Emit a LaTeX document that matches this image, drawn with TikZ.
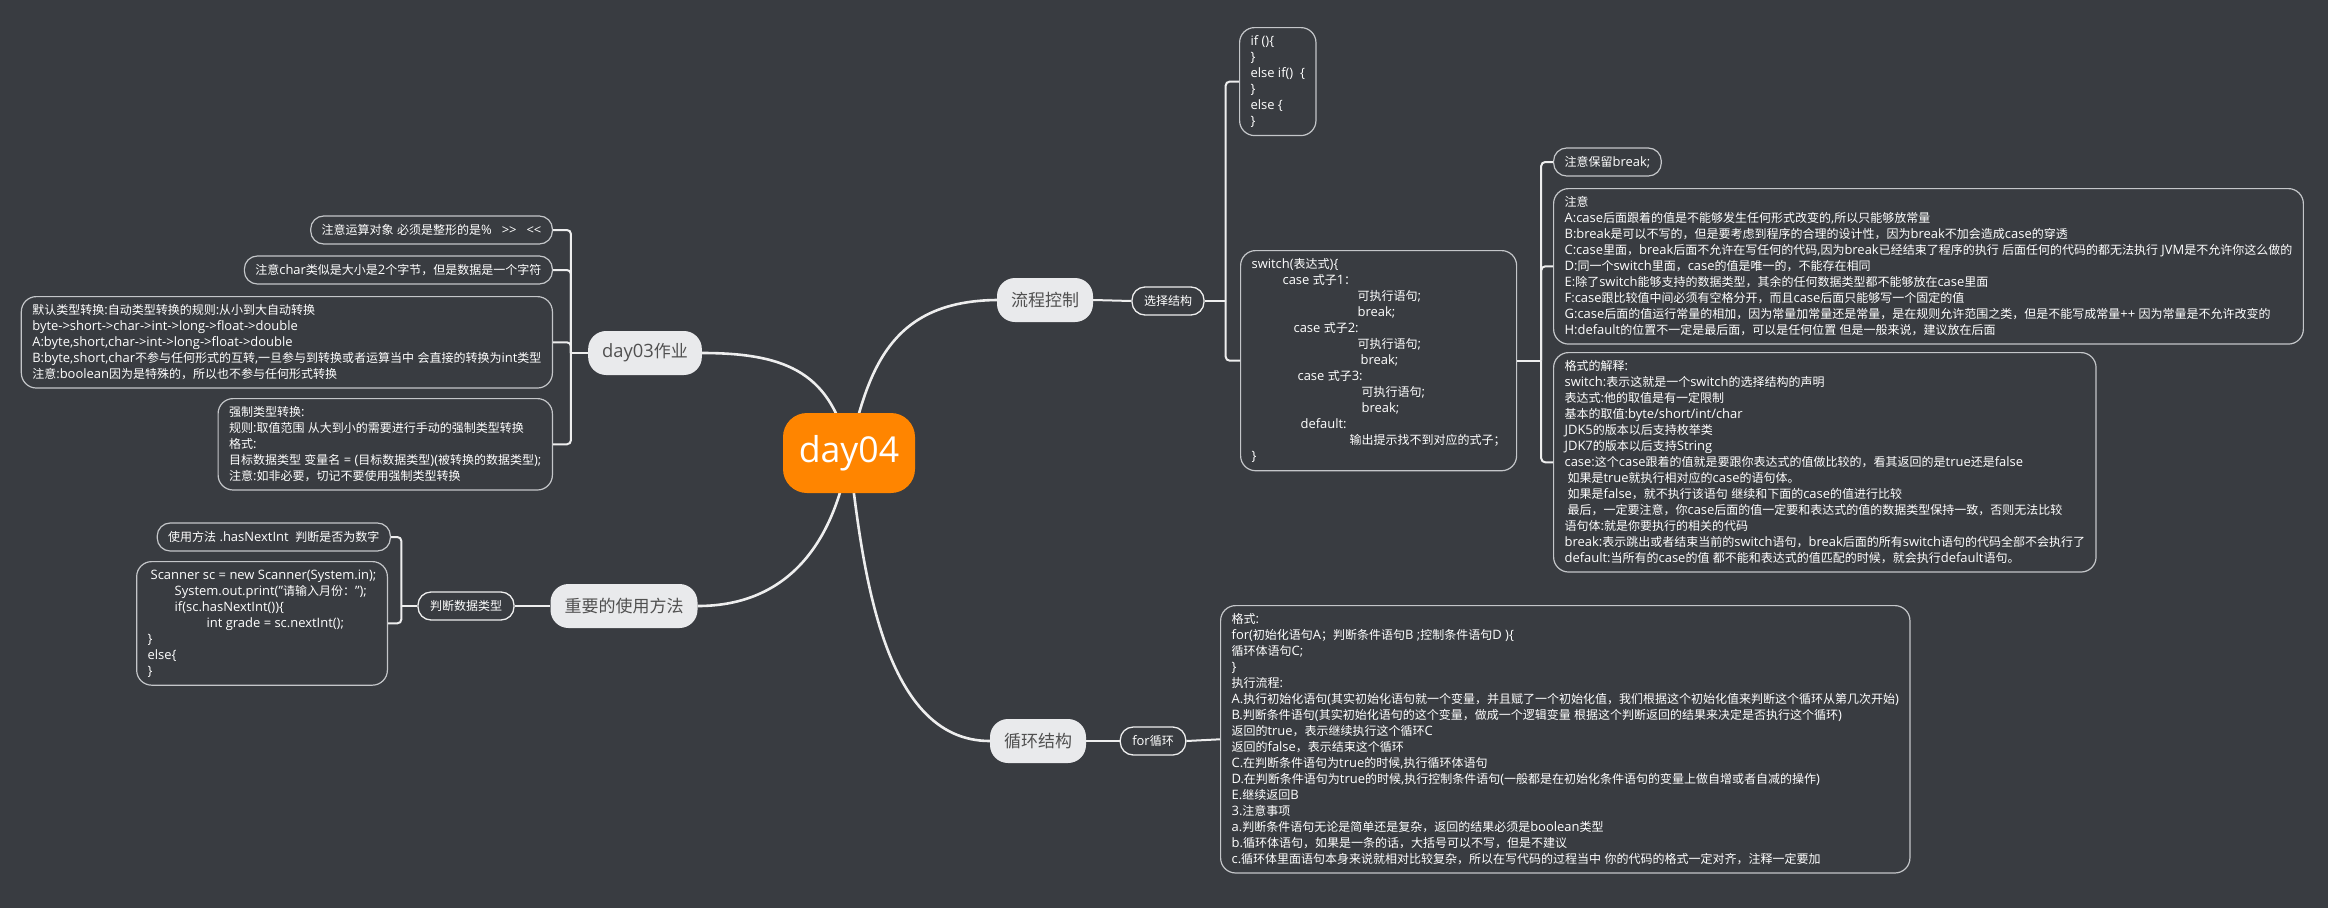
\documentclass[tikz,border=0pt]{standalone}
\usepackage{fontspec}
\setmainfont{Open Sans}[Scale=1.08]
\newfontfamily\hanfont{Noto Sans CJK SC}
\usetikzlibrary{positioning}

% Han characters and full-width punctuation switch to the CJK family
\XeTeXinterchartokenstate=1
\newXeTeXintercharclass\hanclass
\newcount\hancnt
\newcommand{\sethanrange}[2]{\hancnt=#1\relax
  \loop\XeTeXcharclass\hancnt=\hanclass
  \ifnum\hancnt<#2\advance\hancnt by 1\repeat}
\sethanrange{"3000}{"303F}
\sethanrange{"4E00}{"9FFF}
\sethanrange{"FF00}{"FFEF}
\XeTeXinterchartoks 0 \hanclass = {\begingroup\hanfont}
\XeTeXinterchartoks 4095 \hanclass = {\begingroup\hanfont}
\XeTeXinterchartoks \hanclass 0 = {\endgroup}
\XeTeXinterchartoks \hanclass 4095 = {\endgroup}

\definecolor{bgcol}{HTML}{393C41}
\definecolor{rootcol}{HTML}{FF8500}
\definecolor{topiccol}{HTML}{E9EAEC}
\definecolor{topictext}{HTML}{505050}
\definecolor{linecol}{HTML}{EEEEEE}
\definecolor{leafline}{HTML}{C4C6C9}
\newcommand{\leaffont}{\fontsize{12}{16}\selectfont}
\tikzset{
root/.style={fill=rootcol, text=white, rounded corners=24pt, minimum width=132pt, minimum height=80pt, font=\fontsize{33}{40}\selectfont},
topic/.style={fill=topiccol, text=topictext, rounded corners=18pt, minimum height=44pt, inner xsep=14pt, font=\fontsize{17}{20}\selectfont},
subtopic/.style={draw=linecol, line width=1.3pt, text=white, rounded corners=13pt, minimum height=28pt, inner xsep=12pt, font=\fontsize{12}{15}\selectfont},
pill/.style={draw=leafline, line width=1.2pt, text=white, rounded corners=13pt, minimum height=28pt, inner xsep=11pt, font=\leaffont},
leaf/.style={draw=leafline, line width=1.2pt, text=white, rounded corners=15pt, align=left, inner xsep=11pt, inner ysep=8pt, font=\leaffont},
trunk/.style={draw=linecol, line width=2.6pt},
branch/.style={draw=linecol, line width=2pt, rounded corners=4pt},
}

\begin{document}
\begin{tikzpicture}[x=1pt, y=-1pt]
    \fill[bgcol] (0,0) rectangle (2328,908);
    \useasboundingbox (0,0) rectangle (2328,908);

    %main topics
    \node[topic] (flow) at (1045,300) {流程控制};
    \node[topic] (hw)   at (645,353)  {day03作业};
    \node[topic] (use)  at (624,606)  {重要的使用方法};
    \node[topic] (loop) at (1038,741) {循环结构};

    %subtopics
    \node[subtopic] (sel)  at (1168,301) {选择结构};
    \node[subtopic] (chk)  at (466,606)  {判断数据类型};
    \node[subtopic] (forl) at (1153,741) {for循环};

    %leaves of 选择结构
    \node[leaf, anchor=north west] (ifbox) at (1239,27) {if ()\{\\\}\\else if()\ \ \{\\\}\\else \{\\\}};
    \node[leaf, anchor=north west] (sw) at (1240,250) {switch(表达式)\{\\
        \hspace*{31pt}case 式子1：\\
        \hspace*{106pt}可执行语句;\\
        \hspace*{106pt}break;\\
        \hspace*{42pt}case 式子2:\\
        \hspace*{106pt}可执行语句;\\
        \hspace*{109pt}break;\\
        \hspace*{46pt}case 式子3:\\
        \hspace*{110pt}可执行语句;\\
        \hspace*{110pt}break;\\
        \hspace*{49pt}default:\\
        \hspace*{98pt}输出提示找不到对应的式子；\\
        \}};

    %leaves of switch
    \node[pill, anchor=west] (brk) at (1553,162) {注意保留break;};
    \node[leaf, anchor=north west] (note) at (1553,188) {注意\\
        A:case后面跟着的值是不能够发生任何形式改变的,所以只能够放常量\\
        B:break是可以不写的，但是要考虑到程序的合理的设计性，因为break不加会造成case的穿透\\
        C:case里面，break后面不允许在写任何的代码,因为break已经结束了程序的执行 后面任何的代码的都无法执行 JVM是不允许你这么做的\\
        D:同一个switch里面，case的值是唯一的，不能存在相同\\
        E:除了switch能够支持的数据类型，其余的任何数据类型都不能够放在case里面\\
        F:case跟比较值中间必须有空格分开，而且case后面只能够写一个固定的值\\
        G:case后面的值运行常量的相加，因为常量加常量还是常量，是在规则允许范围之类，但是不能写成常量++ 因为常量是不允许改变的\\
        H:default的位置不一定是最后面，可以是任何位置 但是一般来说，建议放在后面};
    \node[leaf, anchor=north west] (fmt) at (1553,352) {格式的解释:\\
        switch:表示这就是一个switch的选择结构的声明\\
        表达式:他的取值是有一定限制\\
        基本的取值:byte/short/int/char\\
        JDK5的版本以后支持枚举类\\
        JDK7的版本以后支持String\\
        case:这个case跟着的值就是要跟你表达式的值做比较的，看其返回的是true还是false\\
        \hspace*{3pt}如果是true就执行相对应的case的语句体。\\
        \hspace*{3pt}如果是false，就不执行该语句 继续和下面的case的值进行比较\\
        \hspace*{3pt}最后，一定要注意，你case后面的值一定要和表达式的值的数据类型保持一致，否则无法比较\\
        语句体:就是你要执行的相关的代码\\
        break:表示跳出或者结束当前的switch语句，break后面的所有switch语句的代码全部不会执行了\\
        default:当所有的case的值 都不能和表达式的值匹配的时候，就会执行default语句。};

    %leaves of day03作业
    \node[pill, anchor=east] (ops) at (553,230) {注意运算对象 必须是整形的是\%\hspace{10pt}>\kern0pt>\hspace{10pt}<\kern0pt<};
    \node[pill, anchor=east] (chr) at (553,270) {注意char类似是大小是2个字节，但是数据是一个字符};
    \node[leaf, anchor=north east] (auto) at (553,296) {默认类型转换:自动类型转换的规则:从小到大自动转换\\
        byte->short->char->int->long->float->double\\
        A:byte,short,char->int->long->float->double\\
        B:byte,short,char不参与任何形式的互转,一旦参与到转换或者运算当中 会直接的转换为int类型\\
        注意:boolean因为是特殊的，所以也不参与任何形式转换};
    \node[leaf, anchor=north east] (cast) at (553,398) {强制类型转换:\\
        规则:取值范围 从大到小的需要进行手动的强制类型转换\\
        格式:\\
        目标数据类型 变量名 = (目标数据类型)(被转换的数据类型);\\
        注意:如非必要，切记不要使用强制类型转换};

    %leaves of 判断数据类型
    \node[pill, anchor=east] (nxt) at (391,537) {使用方法 .hasNextInt\ \ 判断是否为数字};
    \node[leaf, anchor=north east] (scan) at (388,561) {\hspace*{3pt}Scanner sc = new Scanner(System.in);\\
        \hspace*{27pt}System.out.print("请输入月份：");\\
        \hspace*{27pt}if(sc.hasNextInt())\{\\
        \hspace*{59pt}int grade = sc.nextInt();\\
        \}\\
        else\{\\
        \}};

    %leaf of for循环
    \node[leaf, anchor=north west] (forbox) at (1220,605) {格式:\\
        for(初始化语句A；判断条件语句B ;控制条件语句D )\{\\
        循环体语句C;\\
        \}\\
        执行流程:\\
        A.执行初始化语句(其实初始化语句就一个变量，并且赋了一个初始化值，我们根据这个初始化值来判断这个循环从第几次开始)\\
        B.判断条件语句(其实初始化语句的这个变量，做成一个逻辑变量 根据这个判断返回的结果来决定是否执行这个循环)\\
        返回的true，表示继续执行这个循环C\\
        返回的false，表示结束这个循环\\
        C.在判断条件语句为true的时候,执行循环体语句\\
        D.在判断条件语句为true的时候,执行控制条件语句(一般都是在初始化条件语句的变量上做自增或者自减的操作)\\
        E.继续返回B\\
        3.注意事项\\
        a.判断条件语句无论是简单还是复杂，返回的结果必须是boolean类型\\
        b.循环体语句，如果是一条的话，大括号可以不写，但是不建议\\
        c.循环体里面语句本身来说就相对比较复杂，所以在写代码的过程当中 你的代码的格式一定对齐，注释一定要加};

    %junctions
    \coordinate (selJ) at ([xshift=21pt]sel.east);
    \coordinate (swJ)  at ([xshift=24pt]sw.east);
    \coordinate (hwJ)  at ([xshift=-17pt]hw.west);
    \coordinate (chkJ) at ([xshift=-16pt]chk.west);

    %straight links
    \draw[branch] (flow.east)--(sel.west);
    \draw[branch] (loop.east)--(forl.west);
    \draw[branch] (forl.east)--(forbox.west);
    \draw[branch] (use.west)--(chk.east);

    %brackets
    \draw[branch] (sel.east)--(selJ);
    \draw[branch] (selJ) |- (ifbox.west);
    \draw[branch] (selJ) |- (sw.west);

    \draw[branch] (sw.east)--(swJ);
    \draw[branch] (swJ) |- (brk.west);
    \draw[branch] (swJ) |- (note.west);
    \draw[branch] (swJ) |- (fmt.west);

    \draw[branch] (hw.west)--(hwJ);
    \draw[branch] (hwJ) |- (ops.east);
    \draw[branch] (hwJ) |- (chr.east);
    \draw[branch] (hwJ) |- (auto.east);
    \draw[branch] (hwJ) |- (cast.east);

    \draw[branch] (chk.west)--(chkJ);
    \draw[branch] (chkJ) |- (nxt.east);
    \draw[branch] (chkJ) |- (scan.east);

    %curves from the root
    \coordinate (dayc) at (849,453);
    \draw[trunk] (dayc) .. controls (868,370) and (890,301) .. (flow.west);
    \draw[trunk] (dayc) .. controls (832,375) and (790,353) .. (hw.east);
    \draw[trunk] (dayc) .. controls (835,540) and (790,606) .. (use.east);
    \draw[trunk] (dayc) .. controls (862,560) and (880,741) .. (loop.west);

    \node[root] (day) at (dayc) {day04};
\end{tikzpicture}
\end{document}
